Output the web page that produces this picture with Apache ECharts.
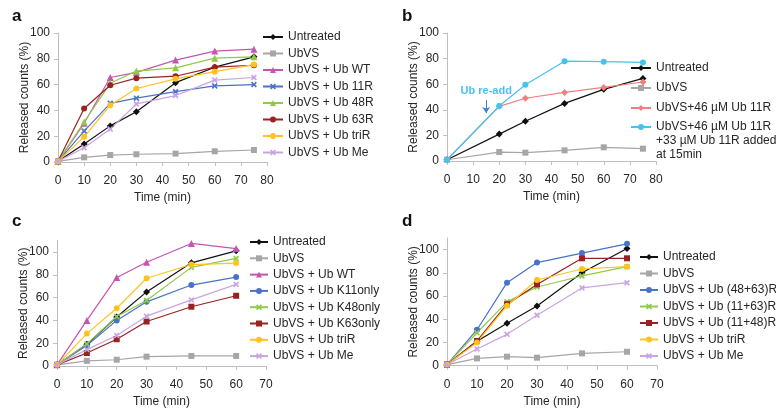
<!DOCTYPE html>
<html>
<head>
<meta charset="utf-8">
<script src="https://cdn.jsdelivr.net/npm/echarts@6/dist/echarts.min.js"></script>
<style>
html,body{margin:0;padding:0;background:#fff;}
#chart{width:776px;height:410px;}
</style>
</head>
<body>
<div id="chart"></div>
<script>
// ---------- DATA ----------
var timeA = [0, 10, 20, 30, 45, 60, 75];
var timeB = [0, 20, 30, 45, 60, 75];
var timeCD = [0, 10, 20, 30, 45, 60];

var aUntreated = [0.5, 14, 28, 39, 61.5, 73.5, 81.5];
var aUbVS      = [0.5, 3.6, 5.4, 6, 6.5, 8.3, 9.3];
var aWT        = [0.5, 30, 65.5, 69.5, 79, 86, 87.5];
var a11R       = [0.5, 24, 45.5, 49.5, 54.5, 59, 60];
var a48R       = [0.5, 31, 61, 70.5, 73, 80.5, 81.5];
var a63R       = [0.5, 41.5, 59.5, 65, 66.5, 73.5, 75];
var aTriR      = [0.5, 19.5, 44, 57, 64.5, 70, 75.5];
var aMe        = [0.5, 11, 25.5, 45, 51.5, 63.5, 65.5];

var bUntreated = [1, 21, 31, 45, 56, 64.5];
var bUbVS      = [1, 7, 6.5, 8.3, 10.7, 9.6];
var b11R       = [1, 42.7, 49, 53.6, 57.5, 61.7];
var b11RReadd  = [1, 43, 59.5, 78, 77.6, 77];

var cUntreated = [1, 19, 43, 65, 90.5, 101];
var cUbVS      = [1, 4.5, 5.5, 8.2, 8.8, 8.8];
var cWT        = [1, 40, 77.7, 91, 107.5, 103];
var cK11       = [1, 18, 40, 56.3, 71, 78];
var cK48       = [1, 19.4, 43.4, 57.5, 86.5, 94.4];
var cK63       = [1, 11.4, 23.5, 39, 52, 61.6];
var cTriR      = [1, 28.4, 50.7, 77, 89, 90.3];
var cMe        = [1, 14.4, 26.7, 43.7, 58, 71.6];

var dUntreated = [1, 21, 36.5, 51.4, 80, 101];
var dUbVS      = [1, 6.3, 7.8, 6.9, 10.6, 12];
var d4863      = [1, 31, 71.5, 88.8, 97, 105];
var d1163      = [1, 28.4, 55, 67.8, 77.3, 85.3];
var d1148      = [1, 21.3, 53, 70, 92.5, 92.5];
var dTriR      = [1, 20, 51.7, 73.8, 83.3, 85.3];
var dMe        = [1, 14.4, 27, 43.4, 67, 71.5];

var yTicks100 = [0, 20, 40, 60, 80, 100];

// ---------- STYLE ----------
var FONT = 'Liberation Sans, Arial, sans-serif';
var TXT = '#262626';
var AX = '#bfbfbf';
var C = {
  black: '#111111', gray: '#a6a6a6', magenta: '#c455b0', blue: '#4a72c8',
  green: '#8fca4a', red: '#992222', yellow: '#ffc21f', lav: '#c9a4e4',
  salmon: '#f08080', cyan: '#45c3f0'
};
var XSYM = 'path://M2,0L5,3L8,0L10,2L7,5L10,8L8,10L5,7L2,10L0,8L3,5L0,2Z';
var READD = 'UbVS+46 µM Ub 11R\n+33 µM Ub 11R added\nat 15min';

function pairs(t, v) { return t.map(function (x, i) { return [x, v[i]]; }); }
function mk(name, t, v, color, symbol, gi, size) {
  return {
    type: 'line', name: name, xAxisIndex: gi, yAxisIndex: gi,
    data: pairs(t, v), symbol: symbol, symbolSize: size || 6,
    lineStyle: { color: color, width: 1.2 },
    itemStyle: { color: color },
    emphasis: { disabled: true }, animation: false
  };
}

var grids = [
  { left: 58, top: 33, width: 209, height: 129 },
  { left: 447, top: 33, width: 209, height: 128 },
  { left: 57, top: 240.6, width: 209, height: 125.4 },
  { left: 447, top: 238, width: 210, height: 127.7 }
];
var xMax = [80, 80, 70, 70];
var yMax = [100, 100, 110, 110];

var xAxes = grids.map(function (g, i) {
  return {
    type: 'value', gridIndex: i, min: 0, max: xMax[i], interval: 10,
    axisLine: { show: true, lineStyle: { color: AX, width: 1 } },
    axisTick: { show: true, length: 4, lineStyle: { color: AX } },
    axisLabel: { fontSize: 12, color: TXT, margin: 13, fontFamily: FONT },
    splitLine: { show: false },
    name: 'Time (min)', nameLocation: 'middle', nameGap: 30, nameMoveOverlap: false,
    nameTextStyle: { fontSize: 12, color: TXT, fontFamily: FONT }
  };
});
var yAxes = grids.map(function (g, i) {
  var ax = {
    type: 'value', gridIndex: i, min: 0, max: yMax[i], interval: 20,
    axisLine: { show: true, lineStyle: { color: AX, width: 1 } },
    axisTick: { show: true, length: 4, lineStyle: { color: AX } },
    axisLabel: { fontSize: 12, color: TXT, margin: 8, fontFamily: FONT },
    splitLine: { show: false },
    name: 'Released counts (%)', nameLocation: 'middle', nameGap: 27, nameMoveOverlap: false,
    nameTextStyle: { fontSize: 12, color: TXT, fontFamily: FONT }
  };
  if (yMax[i] > 100) {
    ax.axisLabel.customValues = yTicks100;
    ax.axisTick.customValues = yTicks100;
  }
  return ax;
});

var series = [
  // a
  mk('Untreated', timeA, aUntreated, C.black, 'diamond', 0, 7),
  mk('UbVS', timeA, aUbVS, C.gray, 'rect', 0),
  mk('UbVS + Ub WT', timeA, aWT, C.magenta, 'triangle', 0, 7),
  mk('UbVS + Ub 11R', timeA, a11R, C.blue, XSYM, 0),
  mk('UbVS + Ub 48R', timeA, a48R, C.green, 'triangle', 0, 7),
  mk('UbVS + Ub 63R', timeA, a63R, C.red, 'circle', 0),
  mk('UbVS + Ub triR', timeA, aTriR, C.yellow, 'circle', 0),
  mk('UbVS + Ub Me', timeA, aMe, C.lav, XSYM, 0),
  // b
  mk('Untreated', timeB, bUntreated, C.black, 'diamond', 1, 7),
  mk('UbVS', timeB, bUbVS, C.gray, 'rect', 1),
  mk('UbVS+46 µM Ub 11R', timeB, b11R, C.salmon, 'diamond', 1, 7),
  mk(READD, timeB, b11RReadd, C.cyan, 'circle', 1),
  // c
  mk('Untreated', timeCD, cUntreated, C.black, 'diamond', 2, 7),
  mk('UbVS', timeCD, cUbVS, C.gray, 'rect', 2),
  mk('UbVS + Ub WT', timeCD, cWT, C.magenta, 'triangle', 2, 7),
  mk('UbVS + Ub K11only', timeCD, cK11, C.blue, 'circle', 2),
  mk('UbVS + Ub K48only', timeCD, cK48, C.green, XSYM, 2),
  mk('UbVS + Ub K63only', timeCD, cK63, C.red, 'rect', 2),
  mk('UbVS + Ub triR', timeCD, cTriR, C.yellow, 'circle', 2),
  mk('UbVS + Ub Me', timeCD, cMe, C.lav, XSYM, 2),
  // d
  mk('Untreated', timeCD, dUntreated, C.black, 'diamond', 3, 7),
  mk('UbVS', timeCD, dUbVS, C.gray, 'rect', 3),
  mk('UbVS + Ub (48+63)R', timeCD, d4863, C.blue, 'circle', 3),
  mk('UbVS + Ub (11+63)R', timeCD, d1163, C.green, XSYM, 3),
  mk('UbVS + Ub (11+48)R', timeCD, d1148, C.red, 'rect', 3),
  mk('UbVS + Ub triR', timeCD, dTriR, C.yellow, 'circle', 3),
  mk('UbVS + Ub Me', timeCD, dMe, C.lav, XSYM, 3)
];

// "Ub re-add" arrow annotation at 15 min (data coordinates)
series[11].markLine = {
  silent: true, animation: false,
  symbol: ['none', 'arrow'], symbolSize: 6,
  lineStyle: { color: '#3a7fd5', width: 1, type: 'solid' },
  label: { show: true, position: 'start', formatter: 'Ub re-add', color: C.cyan,
           fontWeight: 'bold', fontSize: 11, fontFamily: FONT, distance: 4 },
  data: [[{ coord: [15, 47.5] }, { coord: [15, 37.5] }]]
};

function legend(names, left, top, itemWidth, gap, fmt) {
  var l = {
    orient: 'vertical', left: left, top: top, padding: 0,
    itemWidth: itemWidth, itemHeight: 7.5, itemGap: gap,
    selectedMode: false,
    textStyle: { fontSize: 12, color: TXT, fontFamily: FONT, lineHeight: 14 },
    data: names
  };
  if (fmt) l.formatter = fmt;
  return l;
}

var legends = [
  legend(['Untreated', 'UbVS', 'UbVS + Ub WT', 'UbVS + Ub 11R', 'UbVS + Ub 48R',
          'UbVS + Ub 63R', 'UbVS + Ub triR', 'UbVS + Ub Me'], 262, 30, 20, 2.5),
  legend(['Untreated', 'UbVS', 'UbVS+46 µM Ub 11R'], 630, 61, 20, 6),
  // multi-line entry: two leading blank lines so the icon sits on the first text line
  legend([READD], 630, 92, 20, 6, function (n) { return '\n\n' + n; }),
  legend(['Untreated', 'UbVS', 'UbVS + Ub WT', 'UbVS + Ub K11only', 'UbVS + Ub K48only',
          'UbVS + Ub K63only', 'UbVS + Ub triR', 'UbVS + Ub Me'], 249, 235, 18, 2.3),
  legend(['Untreated', 'UbVS', 'UbVS + Ub (48+63)R', 'UbVS + Ub (11+63)R',
          'UbVS + Ub (11+48)R', 'UbVS + Ub triR', 'UbVS + Ub Me'], 639, 250, 18, 2.5)
];

var titleStyle = { fontSize: 17, fontWeight: 'bold', color: '#111', fontFamily: FONT };
var titles = [
  { text: 'a', left: 12, top: 8, padding: 0, textStyle: titleStyle },
  { text: 'b', left: 402, top: 8, padding: 0, textStyle: titleStyle },
  { text: 'c', left: 12, top: 213, padding: 0, textStyle: titleStyle },
  { text: 'd', left: 402, top: 213, padding: 0, textStyle: titleStyle }
];

var chart = echarts.init(document.getElementById('chart'), null, { renderer: 'canvas' });
chart.setOption({
  backgroundColor: '#ffffff',
  animation: false,
  title: titles,
  grid: grids,
  xAxis: xAxes,
  yAxis: yAxes,
  legend: legends,
  series: series
});
</script>
</body>
</html>
